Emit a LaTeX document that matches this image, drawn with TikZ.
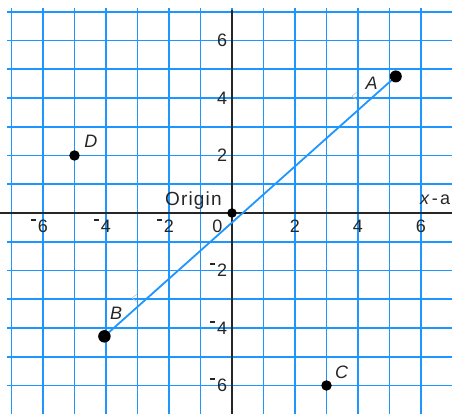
\documentclass[tikz,border=0pt]{standalone}
\usepackage{fontspec}
\setmainfont{Liberation Sans}
\newfontfamily\widefont{Liberation Sans}[LetterSpace=6]
\newfontfamily\widerfont{Liberation Sans}[LetterSpace=12]
\definecolor{gridblue}{RGB}{30,150,255}
\newcommand\mneg{\llap{\rule[0.66em]{0.3em}{0.1em}\hspace{0.1em}}}
\begin{document}
\begin{tikzpicture}[x=31.5pt,y=28.75pt,
  gridline/.style={gridblue, line width=1.7pt},
  axisline/.style={black!85, line width=1.3pt},
  lab/.style={inner sep=0pt, text=black!85, font=\fontsize{18}{20}\selectfont},
  ptlab/.style={inner sep=0pt, text=black!85, font=\fontsize{18}{20}\selectfont\itshape},
  dot/.style={circle, fill=black, inner sep=0pt, minimum size=#1},
  seg/.style={gridblue, line width=1.8pt},
  faint/.style={gray!45, line width=0.6pt}]
\useasboundingbox (-232pt,-201pt) rectangle (220pt,213pt);
% grid
\foreach \i in {-7,...,6} \draw[gridline] (\i,-7.1) -- (\i,7.12);
\foreach \j in {-6,...,7} \draw[gridline] (-7.15,\j) -- (7.1,\j);
% axes
\draw[axisline] (-7.5,0) -- (7.1,0);
\draw[axisline] (0,7.06) -- (0,-7.1);
% x labels
\node[lab, anchor=base] (xm6) at ([yshift=-20pt]-6,0) {\mneg 6};
\node[lab, anchor=base] (xm4) at ([yshift=-20pt]-4,0) {\mneg 4};
\node[lab, anchor=base] (xm2) at ([yshift=-20pt]-2,0) {\mneg 2};
\node[lab, anchor=base] (xp2) at ([yshift=-20pt]2,0) {2};
\node[lab, anchor=base] (xp4) at ([yshift=-20pt]4,0) {4};
\node[lab, anchor=base] (xp6) at ([yshift=-20pt]6,0) {6};
\node[lab, anchor=base east] (zero) at (-9.3pt,-19.5pt) {0};
% y labels
\node[lab, anchor=base east] (yp6) at ([xshift=-4.6pt,yshift=-6.4pt]0,6) {6};
\node[lab, anchor=base east] (yp4) at ([xshift=-4.6pt,yshift=-6.4pt]0,4) {4};
\node[lab, anchor=base east] (yp2) at ([xshift=-4.6pt,yshift=-6.4pt]0,2) {2};
\node[lab, anchor=base east] (ym2) at ([xshift=-4.6pt,yshift=-6.4pt]0,-2) {\mneg 2};
\node[lab, anchor=base east] (ym4) at ([xshift=-4.6pt,yshift=-6.4pt]0,-4) {\mneg 4};
\node[lab, anchor=base east] (ym6) at ([xshift=-4.6pt,yshift=-6.4pt]0,-6) {\mneg 6};
% axis captions
\node[lab, anchor=base west, font=\fontsize{19}{21}\selectfont\widefont] (orig) at (-67pt,7pt) {Origin};
\node[lab, anchor=base west, font=\fontsize{18}{20}\selectfont\widerfont] (xax) at (188pt,8pt) {\textit{x}-axis};
% points
\coordinate (pA) at (5.2,4.75);
\coordinate (pB) at (-4.05,-4.29);
\coordinate (pC) at (3,-6);
\coordinate (pD) at (-5,2);
\coordinate (pO) at (0,0);
\draw[seg] (pB) -- (pA);
\draw[faint] (125pt,121pt) -- (120pt,117pt) -- (125pt,113pt);
\draw[faint] (-95pt,-81pt) -- (-100pt,-85pt) -- (-95pt,-89pt);
\node[dot=12pt] (A) at (pA) {};
\node[dot=12.5pt] (B) at (pB) {};
\node[dot=10.5pt] (C) at (pC) {};
\node[dot=10.5pt] (D) at (pD) {};
\node[dot=9.5pt] (O) at (pO) {};
\node[ptlab] (lA) at (4.43,4.50) {A};
\node[ptlab] (lB) at (-3.68,-3.50) {B};
\node[ptlab] (lC) at (3.48,-5.53) {C};
\node[ptlab] (lD) at (-4.48,2.48) {D};
\end{tikzpicture}
\end{document}
